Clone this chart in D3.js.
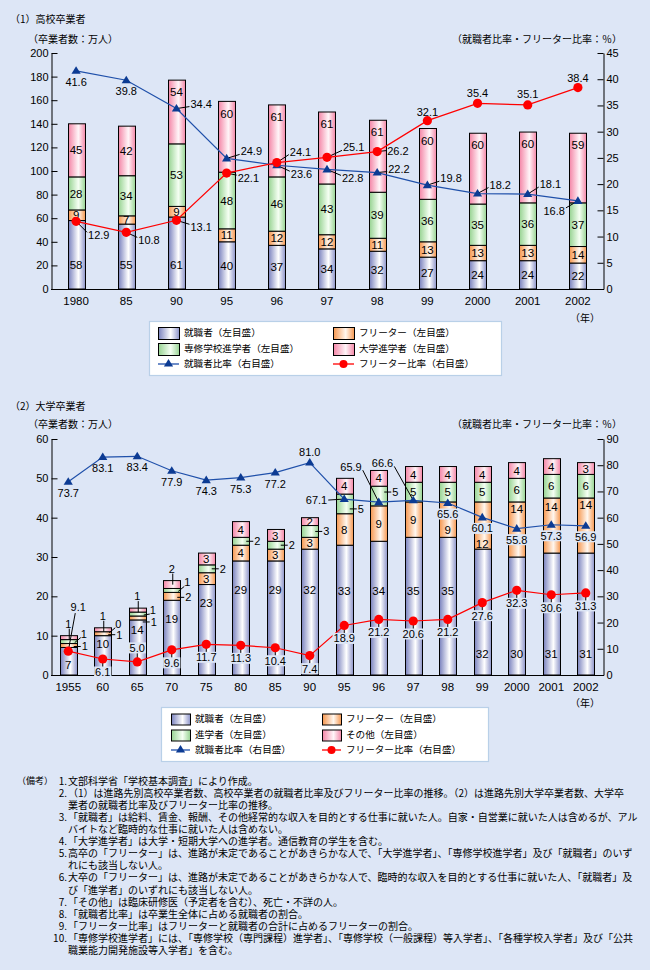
<!DOCTYPE html>
<html><head><meta charset="utf-8">
<script src="https://cdn.jsdelivr.net/npm/d3@7"></script>
<style>
body{margin:0;background:#dde6f6;}
svg{display:block}
</style></head><body>
<svg id="c" width="650" height="970"></svg>
<script>
// ---------- DATA ----------
const hsYears = ["1980","85","90","95","96","97","98","99","2000","2001","2002"];
const hsEmployed   = [58,55,61,40,37,34,32,27,24,24,22];
const hsFreeter    = [9,7,9,11,12,12,11,13,13,13,14];
const hsVocational = [28,34,53,48,46,43,39,36,35,36,37];
const hsUniversity = [45,42,54,60,61,61,61,60,60,60,59];
const hsEmpRate     = [41.6,39.8,34.4,24.9,23.6,22.8,22.2,19.8,18.2,18.1,16.8];
const hsFreeterRate = [12.9,10.8,13.1,22.1,24.1,25.1,26.2,32.1,35.4,35.1,38.4];
const hsLeftTicks  = [0,20,40,60,80,100,120,140,160,180,200];
const hsRightTicks = [0,5,10,15,20,25,30,35,40,45];

const uYears = ["1955","60","65","70","75","80","85","90","95","96","97","98","99","2000","2001","2002"];
const uEmployed = [7,10,14,19,23,29,29,32,33,34,35,35,32,30,31,31];
const uFreeter  = [1,1,1,2,3,4,3,3,8,9,9,9,12,14,14,14];
const uFurther  = [1,0,1,1,2,2,2,3,5,5,5,5,5,6,6,6];
const uOther    = [1,1,1,2,3,4,3,2,4,4,4,4,4,4,4,3];
const uEmpRate     = [73.7,83.1,83.4,77.9,74.3,75.3,77.2,81.0,67.1,65.9,66.6,65.6,60.1,55.8,57.3,56.9];
const uFreeterRate = [9.1,6.1,5.0,9.6,11.7,11.3,10.4,7.4,18.9,21.2,20.6,21.2,27.6,32.3,30.6,31.3];
const uLeftTicks  = [0,10,20,30,40,50,60];
const uRightTicks = [0,10,20,30,40,50,60,70,80,90];

const hsLegend = ["就職者（左目盛）","フリーター（左目盛）","専修学校進学者（左目盛）","大学進学者（左目盛）","就職者比率（右目盛）","フリーター比率（右目盛）"];
const uLegend  = ["就職者（左目盛）","フリーター（左目盛）","進学者（左目盛）","その他（左目盛）","就職者比率（右目盛）","フリーター比率（右目盛）"];

const notes = [
 ["1.","文部科学省「学校基本調査」により作成。"],
 ["2.","（1）は進路先別高校卒業者数、高校卒業者の就職者比率及びフリーター比率の推移。（2）は進路先別大学卒業者数、大学卒"],
 ["","業者の就職者比率及びフリーター比率の推移。"],
 ["3.","「就職者」は給料、賃金、報酬、その他経常的な収入を目的とする仕事に就いた人。自家・自営業に就いた人は含めるが、アル"],
 ["","バイトなど臨時的な仕事に就いた人は含めない。"],
 ["4.","「大学進学者」は大学・短期大学への進学者。通信教育の学生を含む。"],
 ["5.","高卒の「フリーター」は、進路が未定であることがあきらかな人で、「大学進学者」、「専修学校進学者」及び「就職者」のいず"],
 ["","れにも該当しない人。"],
 ["6.","大卒の「フリーター」は、進路が未定であることがあきらかな人で、臨時的な収入を目的とする仕事に就いた人、「就職者」及"],
 ["","び「進学者」のいずれにも該当しない人。"],
 ["7.","「その他」は臨床研修医（予定者を含む）、死亡・不詳の人。"],
 ["8.","「就職者比率」は卒業生全体に占める就職者の割合。"],
 ["9.","「フリーター比率」はフリーターと就職者の合計に占めるフリーターの割合。"],
 ["10.","「専修学校進学者」には、「専修学校（専門課程）進学者」、「専修学校（一般課程）等入学者」、「各種学校入学者」及び「公共"],
 ["","職業能力開発施設等入学者」を含む。"]
];

// ---------- STYLE ----------
const BG = "#dde6f6";
const JP = '"Noto Sans CJK JP","Noto Sans",sans-serif';
const NUM = '"Liberation Sans",Arial,sans-serif';
const BLUE_LINE = "#1f50aa", BLUE_MK = "#0c3b93", RED = "#ff0000";

const svg = d3.select("#c");
svg.append("rect").attr("width",650).attr("height",970).attr("fill",BG);
const defs = svg.append("defs");
const grads = {
  emp:["#7a82be","#ffffff","#8c93c9"],
  free:["#f6974f","#fff7ef","#f6974f"],
  adv:["#97d392","#f5fff3","#97d392"],
  oth:["#f486a7","#fff5f8","#f486a7"]
};
Object.entries(grads).forEach(([k,c])=>{
  const lg = defs.append("linearGradient").attr("id","g-"+k).attr("x1",0).attr("x2",1).attr("y1",0).attr("y2",0);
  lg.append("stop").attr("offset","0%").attr("stop-color",c[0]);
  lg.append("stop").attr("offset","58%").attr("stop-color",c[1]);
  lg.append("stop").attr("offset","100%").attr("stop-color",c[2]);
});

function txt(g,x,y,t,opt={}){
  const e = g.append("text").attr("x",x).attr("y",y).attr("dy","0.36em")
    .attr("text-anchor",opt.anchor||"middle")
    .attr("font-family",opt.font||NUM).attr("font-size",opt.size||11)
    .attr("fill","#000").text(t);
  if(opt.bg){
    const b = e.node().getBBox();
    g.insert("rect", function(){return e.node();})
      .attr("x",b.x-1).attr("y",y-5.5).attr("width",b.width+2).attr("height",11).attr("fill",BG);
  }
  return e;
}
function seg(g,x1,y1,x2,y2){
  g.append("line").attr("x1",x1).attr("y1",y1).attr("x2",x2).attr("y2",y2)
   .attr("stroke","#000").attr("stroke-width",1);
}
const triPath = "M0,-4.6L4.6,3L-4.6,3Z";

function chart(cfg){
  const g = svg.append("g");
  const x = d3.scaleBand().domain(cfg.cats).range([51,603]).paddingInner(cfg.pad).paddingOuter(cfg.pad/2);
  const yL = d3.scaleLinear().domain([0,cfg.lmax]).range([cfg.bottom,cfg.top]);
  const yR = d3.scaleLinear().domain([0,cfg.rmax]).range([cfg.bottom,cfg.top]);
  const bw = x.bandwidth();
  const xc = i => x(cfg.cats[i]) + bw/2;

  // titles
  txt(g,10,cfg.titleY,cfg.title,{anchor:"start",font:JP,size:10});
  txt(g,28,cfg.unitY,"（卒業者数：万人）",{anchor:"start",font:JP,size:10});
  txt(g,622,cfg.unitY,"（就職者比率・フリーター比率：％）",{anchor:"end",font:JP,size:10});

  // bars
  const keys = ["emp","free","adv","oth"];
  const rows = cfg.cats.map((c,i)=>({cat:c,emp:cfg.series[0][i],free:cfg.series[1][i],adv:cfg.series[2][i],oth:cfg.series[3][i]}));
  const stack = d3.stack().keys(keys)(rows);
  stack.forEach(layer=>{
    g.append("g").selectAll("rect").data(layer).join("rect")
      .attr("x",d=>Math.round(x(d.data.cat))+0.5).attr("width",Math.round(bw))
      .attr("y",d=>yL(d[1])).attr("height",d=>yL(d[0])-yL(d[1]))
      .attr("fill","url(#g-"+layer.key+")").attr("stroke","#000").attr("stroke-width",1);
  });

  // axes
  const ax = g.append("g").attr("transform","translate(51.5,0)")
    .call(d3.axisLeft(yL).tickValues(cfg.lticks).tickSize(-6).tickSizeOuter(0).tickPadding(3));
  const ax2 = g.append("g").attr("transform","translate(603.5,0)")
    .call(d3.axisRight(yR).tickValues(cfg.rticks).tickSize(-6).tickSizeOuter(0).tickPadding(3));
  [ax,ax2].forEach(a=>{
    a.selectAll("text").attr("font-family",NUM).attr("font-size",11).attr("fill","#000");
    a.selectAll("line,path").attr("stroke","#000");
  });
  g.append("line").attr("x1",51).attr("x2",604).attr("y1",yL(0)+0.5).attr("y2",yL(0)+0.5).attr("stroke","#000");
  cfg.cats.forEach((c,i)=>txt(g,xc(i),cfg.bottom+cfg.xLabOff,c,{size:11.5}));
  txt(g,585,cfg.bottom+cfg.yearOff,"（年）",{font:JP,size:10});

  // segment labels
  stack.forEach((layer,si)=>layer.forEach((d,i)=>cfg.segLabel(g,si,i,d,{x,yL,xc,bw})));

  // lines
  const line = d3.line().x((d,i)=>xc(i)).y(d=>yR(d));
  g.append("path").attr("d",line(cfg.empRate)).attr("fill","none").attr("stroke",BLUE_LINE).attr("stroke-width",1.2);
  g.append("path").attr("d",line(cfg.frRate)).attr("fill","none").attr("stroke",RED).attr("stroke-width",1.2);

  const placeLine = (vals,lay)=>{
    vals.forEach((v,i)=>{
      const px=xc(i), py=yR(v), L=lay[i];
      const lx=px+L[0], ly=py+L[1];
      if(L[3]===1){
        let ex = L[2]==="start"? lx-1 : L[2]==="end"? lx+1 : lx;
        let ey = ly + (L[1]<-2?3:(L[1]>2?-3:0));
        if(L[2]==="middle") ey = ly + (L[1]<0?5:-5);
        seg(g,px,py,ex,ey);
      } else if(L[3]===2){
        seg(g,px,py,px,ly+(L[1]<0?4:-4));
      } else if(L[3]===3){
        seg(g,px,py,lx-3,ly+6);
      }
    });
  };
  placeLine(cfg.empRate,cfg.empLab);
  placeLine(cfg.frRate,cfg.frLab);

  g.append("g").selectAll("path").data(cfg.empRate).join("path")
    .attr("d",triPath).attr("transform",(d,i)=>`translate(${xc(i)},${yR(d)})`).attr("fill",BLUE_MK);
  g.append("g").selectAll("circle").data(cfg.frRate).join("circle")
    .attr("cx",(d,i)=>xc(i)).attr("cy",d=>yR(d)).attr("r",4.6).attr("fill",RED);

  cfg.empRate.forEach((v,i)=>{const L=cfg.empLab[i]; txt(g,xc(i)+L[0],yR(v)+L[1],v.toFixed(1),{anchor:L[2],bg:cfg.empBg(i)});});
  cfg.frRate.forEach((v,i)=>{const L=cfg.frLab[i]; txt(g,xc(i)+L[0],yR(v)+L[1],v.toFixed(1),{anchor:L[2],bg:cfg.frBg(i)});});
  return g;
}

function legend(box,cols,rows,sw,labels){
  const g = svg.append("g");
  g.append("rect").attr("x",box[0]+0.5).attr("y",box[1]+0.5).attr("width",box[2]).attr("height",box[3])
    .attr("fill","#fff").attr("stroke","#b9d0e8").attr("stroke-width",1.2);
  const kinds=["emp","free","adv","oth"];
  kinds.forEach((k,j)=>{
    const cx=cols[j%2], cy=rows[Math.floor(j/2)];
    g.append("rect").attr("x",cx+0.5).attr("y",cy-sw[1]/2+0.5).attr("width",sw[0]).attr("height",sw[1])
      .attr("fill","url(#g-"+k+")").attr("stroke","#000");
    txt(g,cx+sw[0]+5,cy,labels[j],{anchor:"start",font:JP,size:9.6});
  });
  const cy=rows[2];
  g.append("line").attr("x1",cols[0]).attr("x2",cols[0]+sw[0]).attr("y1",cy).attr("y2",cy).attr("stroke",BLUE_LINE).attr("stroke-width",1.3);
  g.append("path").attr("d",triPath).attr("transform",`translate(${cols[0]+sw[0]/2},${cy-0.5})`).attr("fill",BLUE_MK);
  txt(g,cols[0]+sw[0]+5,cy,labels[4],{anchor:"start",font:JP,size:9.6});
  g.append("line").attr("x1",cols[1]).attr("x2",cols[1]+sw[0]).attr("y1",cy).attr("y2",cy).attr("stroke",RED).attr("stroke-width",1.3);
  g.append("circle").attr("cx",cols[1]+sw[0]/2).attr("cy",cy).attr("r",4).attr("fill",RED);
  txt(g,cols[1]+sw[0]+5,cy,labels[5],{anchor:"start",font:JP,size:9.6});
}

// ---------- CHART 1 ----------
const hsEmpLab = [[0,11,"middle",0],[0,11,"middle",0],[14,-5,"start",1],[14,-7,"start",1],[14,9,"start",1],[15,9,"start",1],
  [11,-4,"start",1],[13,-7,"start",1],[12,-9,"start",1],[12,-10,"start",1],[-13,10,"end",1]];
const hsFrLab = [[12,14,"start",1],[12,8,"start",1],[14,7,"start",1],[11,5,"start",1],[13,-11,"start",1],[16,-10,"start",1],
  [10,-1,"start",1],[0,-9,"middle",0],[0,-10,"middle",0],[0,-11,"middle",0],[0,-10,"middle",0]];

chart({
  title:"（1）高校卒業者", titleY:19, unitY:39,
  cats:hsYears, pad:0.661, top:53, bottom:289, lmax:200, rmax:45,
  lticks:hsLeftTicks, rticks:hsRightTicks, xLabOff:12, yearOff:29,
  series:[hsEmployed,hsFreeter,hsVocational,hsUniversity],
  empRate:hsEmpRate, frRate:hsFreeterRate, empLab:hsEmpLab, frLab:hsFrLab,
  empBg:()=>false, frBg:()=>false,
  segLabel:(g,si,i,d,s)=>{
    let cy=(s.yL(d[0])+s.yL(d[1]))/2;
    if(si===0) cy=Math.max(cy,s.yL(20.5));
    if(si===3 && i>=2) cy=s.yL(d[1])+12;
    txt(g,s.xc(i),cy,String(d[1]-d[0]),{size:11.5});
  }
});
legend([149,321,352,54],[158,333],[333,349,364],[21,12],hsLegend);

// ---------- CHART 2 ----------
const uEmpLabelAt=[2.5,8,11.4,14.2,18.3,21.6,21.6,21.6,21.4,21.4,21.4,21.4,5.4,5.4,5.4,5.4];
const uFreeLabelShift=[0,0,0,0,0,0,0,0,0,0,0,10,18,-21,-19,-21];
const uEmpLab = uEmpRate.map((v,i)=>{
  if(i===7) return [0,-11,"middle",0];
  if(i===8) return [-17,1,"end",1];
  if(i===9) return [-17,-35,"end",1];
  if(i===10) return [-20,-37,"end",1];
  return [0,11,"middle",0];
});
const uFrLab = uFreeterRate.map((v,i)=>{
  if(i===0) return [10,-44,"middle",3];
  if(i===2) return [0,-14,"middle",2];
  return [0,13,"middle",2];
});
chart({
  title:"（2）大学卒業者", titleY:406, unitY:424,
  cats:uYears, pad:0.507, top:439, bottom:675, lmax:60, rmax:90,
  lticks:uLeftTicks, rticks:uRightTicks, xLabOff:12, yearOff:28,
  series:[uEmployed,uFreeter,uFurther,uOther],
  empRate:uEmpRate, frRate:uFreeterRate, empLab:uEmpLab, frLab:uFrLab,
  empBg:i=>i>=11, frBg:i=>i>0,
  segLabel:(g,si,i,d,s)=>{
    const v=d[1]-d[0], cx=s.xc(i), br=s.xc(i)+s.bw/2, mid=(s.yL(d[0])+s.yL(d[1]))/2, t=String(v);
    const hL=(y)=>{seg(g,br-3,y,br+4,y); txt(g,br+5,y,t,{anchor:"start"});};
    const dL=(dy)=>{seg(g,br-2,mid+1,br+4,mid+dy+4); txt(g,br+4,mid+dy,t,{anchor:"start"});};
    if(si===0){ txt(g,cx,s.yL(uEmpLabelAt[i]),t,{size:11.5}); }
    else if(si===1){ if(i<=3) hL(mid+(i===2?4:1)); else txt(g,cx,mid+uFreeLabelShift[i],t,{size:11.5}); }
    else if(si===2){
      if(i<=3) dL(i===2?-4:-8);
      else if(i<=9) hL(mid+(i===8?5:(i===9?-4:0)));
      else txt(g,cx,mid,t,{size:11.5});
    } else {
      if(i<=3){ const top=s.yL(d[1]); seg(g,cx+1,top+4,cx+1,top-7); txt(g,cx,top-12,t); }
      else txt(g,cx,mid,t,{size:11.5});
    }
  }
});
legend([161,707,327,54],[171,322],[719,735,750],[19,11],uLegend);

// ---------- NOTES ----------
const ng = svg.append("g");
txt(ng,17,781,"（備考）",{anchor:"start",font:JP,size:9});
notes.forEach((n,k)=>{
  const y = 781 + k*12.1;
  if(n[0]) txt(ng,67,y,n[0],{anchor:"end",font:JP,size:10});
  txt(ng,68,y,n[1],{anchor:"start",font:JP,size:10});
});
</script>
</body></html>
